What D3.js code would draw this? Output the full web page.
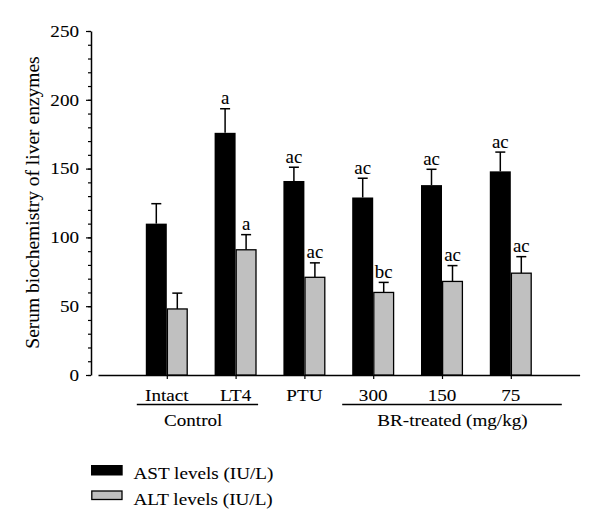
<!DOCTYPE html>
<html>
<head>
<meta charset="utf-8">
<script src="https://cdn.jsdelivr.net/npm/d3@7"></script>
<style>
  html, body { margin: 0; padding: 0; background: #fff; }
  svg { display: block; }
  text { font-family: "Liberation Serif", "Times New Roman", serif; fill: #000; stroke: #000; stroke-width: 0.08px; }
</style>
</head>
<body>
<svg id="chart" width="600" height="527"></svg>
<script>
// ---- data ----
const categories = ["Intact", "LT4", "PTU", "300", "150", "75"];
const astValues = [110, 176, 141, 129, 138, 148];
const astErrors = [14.5, 17.5, 10, 14, 11.5, 14];
const altValues = [48, 91, 71, 60, 68, 74];
const altErrors = [11.5, 11, 10.5, 7.3, 11.5, 12];
const astLabels = ["", "a", "ac", "ac", "ac", "ac"];
const altLabels = ["", "a", "ac", "bc", "ac", "ac"];
const yTicks = [0, 50, 100, 150, 200, 250];
const seriesNames = ["AST levels (IU/L)", "ALT levels (IU/L)"];
const groupLabels = ["Control", "BR-treated (mg/kg)"];
const yTitle = "Serum biochemistry of liver enzymes";

// ---- layout ----
const svg = d3.select("#chart");
const SX = 1.16;           // horizontal stretch of horizontal text
const FS = 16.5;
const x0 = 98, x1 = 579.6, y0 = 375, yTop = 31, axisX = 91;
const barW = 21;

const x = d3.scalePoint().domain(categories).range([x0, x1]).padding(1);
const y = d3.scaleLinear().domain([0, 250]).range([y0, yTop]);

function stretchedText(g, tx, ty, str, anchor, size, sx) {
  return g.append("text")
    .attr("transform", `translate(${tx},${ty}) scale(${sx || SX},1)`)
    .attr("text-anchor", anchor || "middle")
    .style("font-size", (size || FS) + "px")
    .text(str);
}

// minor y ticks
svg.append("g")
  .attr("transform", `translate(${axisX},0)`)
  .call(d3.axisLeft(y).tickValues(d3.range(0, 251, 10)).tickSize(3).tickSizeOuter(0).tickFormat(""))
  .call(g => g.select(".domain").remove())
  .call(g => g.selectAll("line").attr("stroke-width", 1.2));

// major y axis
const yAxis = svg.append("g")
  .attr("transform", `translate(${axisX},0)`)
  .call(d3.axisLeft(y).tickValues(yTicks).tickSize(5).tickSizeOuter(0).tickPadding(5.3));
yAxis.select(".domain").attr("stroke-width", 1.5);
yAxis.selectAll("line").attr("stroke-width", 1.2);
yAxis.selectAll("text")
  .style("font-size", FS + "px")
  .style("font-family", "Liberation Serif, serif")
  .attr("transform", `scale(${SX},1)`);

// x axis
const xAxis = svg.append("g")
  .attr("transform", `translate(0,${y0})`)
  .call(d3.axisBottom(x).tickSize(4).tickSizeOuter(0).tickFormat(""));
xAxis.select(".domain").attr("stroke-width", 1.5);
xAxis.selectAll("line").attr("stroke-width", 1.2);

// category labels
categories.forEach(c => stretchedText(svg, x(c), 401, c));

// group underlines and labels
const groups = [
  { label: groupLabels[0], from: x("Intact") - 30, to: x("LT4") + 22.5, center: (x("Intact") + x("LT4")) / 2 - 8 },
  { label: groupLabels[1], from: x("300") - 31, to: x("75") + 51, center: x("150") + 10.5 }
];
groups.forEach(gp => {
  svg.append("line")
    .attr("x1", gp.from).attr("x2", gp.to)
    .attr("y1", 404.5).attr("y2", 404.5)
    .attr("stroke", "#000").attr("stroke-width", 1.5);
  stretchedText(svg, gp.center, 425.5, gp.label);
});

// bars
const data = categories.map((c, i) => ({
  c, ast: astValues[i], astE: astErrors[i], alt: altValues[i], altE: altErrors[i],
  astL: astLabels[i], altL: altLabels[i]
}));

const series = [
  { key: "ast", err: "astE", lab: "astL", offset: -barW, fill: "#000", stroke: "#000" },
  { key: "alt", err: "altE", lab: "altL", offset: 0, fill: "#c0c0c0", stroke: "#000" }
];

series.forEach(s => {
  const g = svg.append("g");
  data.forEach(d => {
    const cx = x(d.c) + s.offset + barW / 2;
    const yt = y(d[s.key] + d[s.err]);
    g.append("line").attr("x1", cx).attr("x2", cx)
      .attr("y1", y(d[s.key])).attr("y2", yt)
      .attr("stroke", "#000").attr("stroke-width", 1.5);
    g.append("line").attr("x1", cx - 5).attr("x2", cx + 5)
      .attr("y1", yt).attr("y2", yt)
      .attr("stroke", "#000").attr("stroke-width", 1.5);
    if (d[s.lab]) stretchedText(g, cx, yt - 4.5, d[s.lab], "middle", 18.5, 1.02);
  });
  g.selectAll("rect").data(data).enter().append("rect")
    .attr("x", d => x(d.c) + s.offset + (s.offset === 0 ? 0.6 : 0))
    .attr("y", d => y(d[s.key]))
    .attr("width", s.offset === 0 ? barW - 1.2 : barW)
    .attr("height", d => y0 - y(d[s.key]))
    .attr("fill", s.fill)
    .attr("stroke", s.stroke)
    .attr("stroke-width", s.offset === 0 ? 1.3 : 0);
});

// y title
svg.append("text")
  .attr("transform", `translate(38.5,202.5) rotate(-90)`)
  .attr("text-anchor", "middle")
  .style("font-size", "19.5px")
  .text(yTitle);

// legend
const legend = svg.append("g");
const legendY = [465, 491];
const legendH = [10.5, 8.5];
series.forEach((s, i) => {
  legend.append("rect")
    .attr("x", s.offset === 0 ? 91.8 : 91).attr("y", legendY[i])
    .attr("width", s.offset === 0 ? 30.2 : 31.7).attr("height", legendH[i])
    .attr("fill", s.fill).attr("stroke", "#000")
    .attr("stroke-width", s.offset === 0 ? 1.3 : 0);
  stretchedText(legend, 133.5, legendY[i] + 13.5, seriesNames[i], "start");
});
</script>
</body>
</html>
